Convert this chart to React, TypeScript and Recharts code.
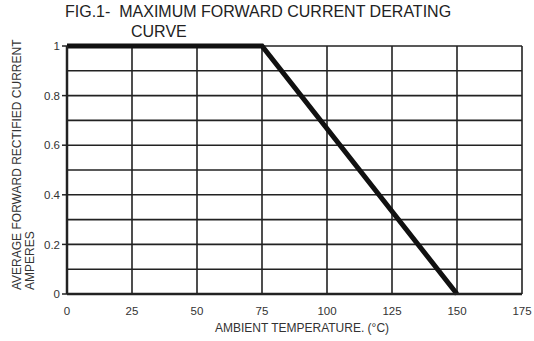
import React from 'react';
import { LineChart, Line, XAxis, YAxis, CartesianGrid } from 'recharts';

const temperature = [0, 75, 150];
const current = [1, 1, 0];

const xTicks = [0, 25, 50, 75, 100, 125, 150, 175];
const yTicks = [0, 0.1, 0.2, 0.3, 0.4, 0.5, 0.6, 0.7, 0.8, 0.9, 1];
const yLabels = ['0', '', '0.2', '', '0.4', '', '0.6', '', '0.8', '', '1'];

const data = temperature.map((t, i) => ({ t, current: current[i] }));

const font = '"Liberation Sans", Arial, sans-serif';

const YTick = (props: any) => {
  const { x, y, index } = props;
  const label = yLabels[index];
  if (!label) return null;
  return (
    <g>
      <line x1={x + 3} x2={x + 8} y1={y} y2={y} stroke="#222" strokeWidth={1.5} />
      <text x={x + 1} y={y} dy="0.36em" textAnchor="end" fontSize={11.5} fill="#333" fontFamily={font}>
        {label}
      </text>
    </g>
  );
};

const App = () => {
  return (
    <div style={{ position: 'absolute', left: 0, top: 0, width: 534, height: 341, background: '#fff', fontFamily: font }}>
      <div style={{ position: 'absolute', left: 65, top: 2, fontSize: 16, color: '#222', whiteSpace: 'pre', lineHeight: '20px' }}>
        {'FIG.1-  MAXIMUM FORWARD CURRENT DERATING'}
      </div>
      <div style={{ position: 'absolute', left: 131, top: 22, fontSize: 16, color: '#222', lineHeight: '20px' }}>
        CURVE
      </div>
      <div style={{ position: 'absolute', left: 11, top: 290, width: 0, height: 0, transformOrigin: '0 0', transform: 'rotate(-90deg)', fontSize: 12, color: '#333', whiteSpace: 'nowrap', lineHeight: '13px' }}>
        <div style={{ position: 'absolute', left: 0, top: 0 }}>AVERAGE FORWARD RECTIFIED CURRENT</div>
        <div style={{ position: 'absolute', left: 0, top: 13 }}>AMPERES</div>
      </div>
      <LineChart width={534} height={341} data={data} margin={{ top: 46, right: 12, bottom: 17, left: 0 }}>
        <CartesianGrid stroke="#222" strokeWidth={1.6} />
        <XAxis
          dataKey="t"
          type="number"
          domain={[0, 175]}
          ticks={xTicks}
          height={30}
          tickLine={false}
          tickMargin={7}
          axisLine={{ stroke: '#222', strokeWidth: 2.5 }}
          tick={{ fontSize: 11.5, fill: '#333', fontFamily: font }}
        />
        <YAxis
          type="number"
          domain={[0, 1]}
          ticks={yTicks}
          width={67}
          interval={0}
          tickLine={false}
          axisLine={{ stroke: '#222', strokeWidth: 2.5 }}
          tick={<YTick />}
        />
        <Line
          type="linear"
          dataKey="current"
          stroke="#111"
          strokeWidth={5}
          dot={false}
          isAnimationActive={false}
        />
      </LineChart>
      <div style={{ position: 'absolute', left: 0, width: 534, top: 321, textAlign: 'center', fontSize: 12, color: '#333', paddingLeft: 70, boxSizing: 'border-box', lineHeight: '14px' }}>
        AMBIENT TEMPERATURE. (°C)
      </div>
    </div>
  );
};

export default App;
